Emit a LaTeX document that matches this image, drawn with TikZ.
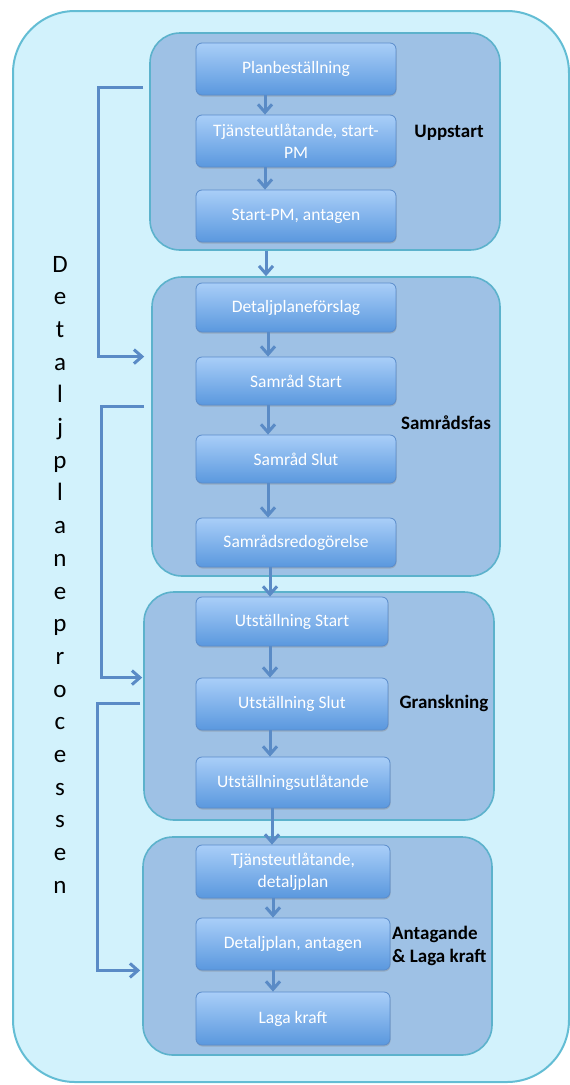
\documentclass[tikz,border=0pt]{standalone}
\usepackage{fontspec}
\setmainfont{Carlito}
\usetikzlibrary{arrows.meta,shadows}
\definecolor{outerfill}{HTML}{D2F2FC}
\definecolor{outerdraw}{HTML}{63BDD4}
\definecolor{groupfill}{HTML}{9EC1E5}
\definecolor{groupdraw}{HTML}{5CB2CC}
\definecolor{boxtop}{HTML}{A9CEF8}
\definecolor{boxbot}{HTML}{5A98DE}
\definecolor{boxdraw}{HTML}{5A8CCB}
\definecolor{arrowc}{HTML}{5A8BC6}
\tikzset{
  outerbox/.style={draw=outerdraw, fill=outerfill, line width=2pt, rounded corners=62pt, inner sep=0pt},
  groupbox/.style={draw=groupdraw, fill=groupfill, line width=1.6pt, rounded corners=30pt, inner sep=0pt},
  stepbox/.style={draw=boxdraw, line width=0.8pt, top color=boxtop, bottom color=boxbot, rounded corners=6pt,
     minimum width=200pt, minimum height=50pt, inner sep=2pt, align=center, text=white,
     font=\fontsize{17.5}{22}\selectfont, drop shadow={shadow xshift=0.5pt, shadow yshift=-1.5pt, opacity=0.35}},
  narrowbox/.style={stepbox, minimum width=194pt},
  grouplabel/.style={font=\bfseries\fontsize{19}{24}\selectfont, text=black, inner sep=0pt},
  letter/.style={font=\fontsize{25}{25}\selectfont, text=black, inner sep=0pt, anchor=base},
  flow/.style={draw=arrowc, line width=3pt, -{Straight Barb[length=8pt,width=14pt]}},
  conn/.style={draw=arrowc, line width=3pt, -{Straight Barb[length=8pt,width=14pt]}},
}
\begin{document}
\begin{tikzpicture}[x=1pt,y=-1pt]
\useasboundingbox (0,0) rectangle (570,1085);
\node[outerbox, minimum width=556pt, minimum height=1071pt] (outer) at (291,546.5) {};

% groups
\node[groupbox, minimum width=350pt, minimum height=217pt] (g1) at (325,141.5) {};
\node[groupbox, minimum width=348pt, minimum height=299pt] (g2) at (326,426.5) {};
\node[groupbox, minimum width=350pt, minimum height=228pt] (g3) at (319,706) {};
\node[groupbox, minimum width=349pt, minimum height=218pt] (g4) at (317.5,946) {};

% step boxes
\node[stepbox, minimum height=52pt] (b1) at (296,69) {Planbeställning};
\node[stepbox, minimum height=52pt] (b2) at (296,141) {Tjänsteutlåtande, start-\\PM};
\node[stepbox, minimum height=52pt] (b3) at (296,216) {Start-PM, antagen};

\node[stepbox, minimum height=49pt] (b4) at (296,307.5) {Detaljplaneförslag};
\node[stepbox, minimum height=48pt] (b5) at (296,381) {Samråd Start};
\node[stepbox, minimum height=48pt] (b6) at (296,459) {Samråd Slut};
\node[stepbox, minimum height=49pt] (b7) at (296,542.5) {Samrådsredogörelse};

\node[stepbox, minimum width=192pt, minimum height=49pt] (b8) at (292,621.5) {Utställning Start};
\node[stepbox, minimum width=192pt, minimum height=52pt] (b9) at (292,704) {Utställning Slut};
\node[narrowbox, minimum height=51pt] (b10) at (293,782.5) {Utställningsutlåtande};

\node[narrowbox, minimum height=53pt] (b11) at (293,871.5) {Tjänsteutlåtande,\\detaljplan};
\node[narrowbox, minimum height=52pt] (b12) at (293,944) {Detaljplan, antagen};
\node[narrowbox, minimum height=53pt] (b13) at (293,1018.5) {Laga kraft};

% group labels
\node[grouplabel] (l1) at (449,133) {Uppstart};
\node[grouplabel] (l2) at (446,423) {Samrådsfas};
\node[grouplabel] (l3) at (444,703) {Granskning};
\node[grouplabel, align=left, anchor=west, font=\bfseries\fontsize{19}{23}\selectfont] (l4) at (392,946) {Antagande\\\& Laga kraft};

% flow arrows (vertical)
\draw[flow] ([xshift=-31pt]b1.south) -- ([xshift=-31pt]b1.south |- b2.north);
\draw[flow] ([xshift=-31pt]b2.south) -- ([xshift=-31pt]b2.south |- b3.north);
\draw[flow] ([xshift=-30pt]b3.south |- g1.south) -- ([xshift=-30pt]b3.south |- g2.north);
\draw[flow] ([xshift=-28pt]b4.south) -- ([xshift=-28pt]b4.south |- b5.north);
\draw[flow] ([xshift=-28pt]b5.south) -- ([xshift=-28pt]b5.south |- b6.north);
\draw[flow] ([xshift=-28pt]b6.south) -- ([xshift=-28pt]b6.south |- b7.north);
\draw[flow] ([xshift=-26pt]b7.south) -- ([xshift=-26pt]b7.south |- b8.north);
\draw[flow] ([xshift=-22pt]b8.south) -- ([xshift=-22pt]b8.south |- b9.north);
\draw[flow] ([xshift=-22pt]b9.south) -- ([xshift=-22pt]b9.south |- b10.north);
\draw[flow] ([xshift=-21pt]b10.south) -- ([xshift=-21pt]b10.south |- b11.north);
\draw[flow] ([xshift=-20pt]b11.south) -- ([xshift=-20pt]b11.south |- b12.north);
\draw[flow] ([xshift=-20pt]b12.south) -- ([xshift=-20pt]b12.south |- b13.north);

% left connectors
\coordinate (s1) at (143,87);
\coordinate (s2) at (144,406);
\coordinate (s3) at (140,703);
\draw[conn] (s1) -- ++(-45,0) |- ([xshift=-7pt]g2.west |- b5.north);
\draw[conn] (s2) -- ++(-43,0) |- ([xshift=-1pt]g3.west |- b9.north);
\draw[conn] (s3) -- ++(-43,0) |- ([xshift=-2pt]g4.west |- b12.south);

% vertical title
\foreach \c [count=\i from 0] in {D,e,t,a,l,j,p,l,a,n,e,p,r,o,c,e,s,s,e,n}
  \node[letter] (L\i) at (60,{272+\i*32.7}) {\c};
\end{tikzpicture}
\end{document}
